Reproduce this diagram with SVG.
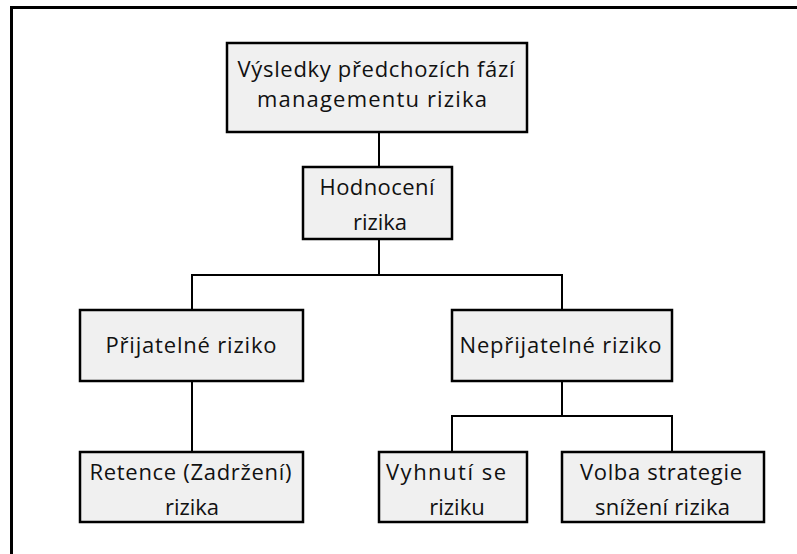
<svg xmlns="http://www.w3.org/2000/svg" width="797" height="554" viewBox="0 0 797 554">
  <style>
    .box { fill: #f0f0f0; stroke: #000; stroke-width: 2.5; }
    .lbl { font-family: "Open Sans", "Liberation Sans", Arial, sans-serif; font-size: 22px; fill: #111; text-anchor: middle; }
    .wire { fill: none; stroke: #000; stroke-width: 2; }
    .frame { fill: none; stroke: #000; stroke-width: 3; }
  </style>

  <!-- page frame (top and left edges) -->
  <path class="frame" d="M11.5,554 V7.5 H797"/>

  <g id="connectors">
    <path class="wire" d="M379,132 V167"/>
    <path class="wire" d="M379,239 V275"/>
    <path class="wire" d="M192,310 V275 H562 V310"/>
    <path class="wire" d="M192,381 V452"/>
    <path class="wire" d="M562,381 V416"/>
    <path class="wire" d="M452,452 V416 H672 V452"/>
  </g>

  <g id="vysledky">
    <rect class="box" x="227" y="43" width="300" height="89"/>
    <text class="lbl" x="376" y="77" textLength="277" lengthAdjust="spacing">Výsledky předchozích fází</text>
    <text class="lbl" x="372" y="107" textLength="230" lengthAdjust="spacing">managementu rizika</text>
  </g>

  <g id="hodnoceni">
    <rect class="box" x="303" y="167" width="149" height="72"/>
    <text class="lbl" x="377" y="195" textLength="115" lengthAdjust="spacing">Hodnocení</text>
    <text class="lbl" x="380" y="230">rizika</text>
  </g>

  <g id="prijatelne">
    <rect class="box" x="80" y="310" width="223" height="71"/>
    <text class="lbl" x="191" y="353" textLength="171" lengthAdjust="spacing">Přijatelné riziko</text>
  </g>

  <g id="neprijatelne">
    <rect class="box" x="452" y="310" width="220" height="71"/>
    <text class="lbl" x="560.5" y="353" textLength="202" lengthAdjust="spacing">Nepřijatelné riziko</text>
  </g>

  <g id="retence">
    <rect class="box" x="80" y="452" width="223" height="70"/>
    <text class="lbl" x="190.5" y="480" textLength="202" lengthAdjust="spacing">Retence (Zadržení)</text>
    <text class="lbl" x="192" y="515">rizika</text>
  </g>

  <g id="vyhnuti">
    <rect class="box" x="379" y="452" width="148" height="70"/>
    <text class="lbl" x="446" y="480" textLength="120" lengthAdjust="spacing">Vyhnutí se</text>
    <text class="lbl" x="457" y="515">riziku</text>
  </g>

  <g id="volba">
    <rect class="box" x="562" y="452" width="202" height="70"/>
    <text class="lbl" x="661" y="480" textLength="162" lengthAdjust="spacing">Volba strategie</text>
    <text class="lbl" x="662.5" y="515" textLength="135" lengthAdjust="spacing">snížení rizika</text>
  </g>
</svg>
